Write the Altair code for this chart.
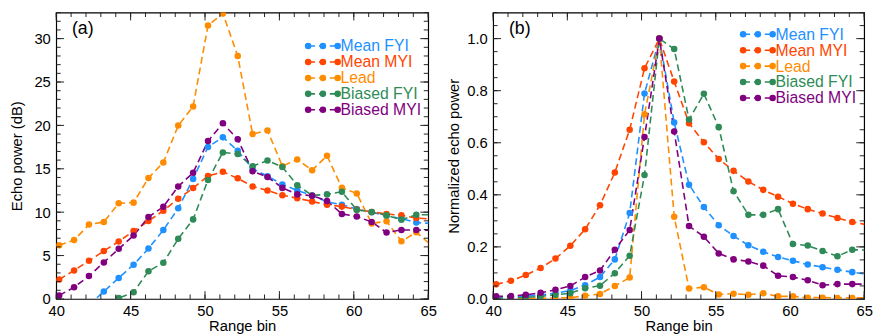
import altair as alt
import pandas as pd

# ---------------- data ----------------
range_bin = [40.2, 41.2, 42.2, 43.2, 44.2, 45.2, 46.2, 47.2, 48.2, 49.2, 50.2, 51.2, 52.2,
             53.2, 54.2, 55.2, 56.2, 57.2, 58.2, 59.2, 60.2, 61.2, 62.2, 63.2, 64.2, 65.2]

series_names = ["Mean FYI", "Mean MYI", "Lead", "Biased FYI", "Biased MYI"]
series_colors = ["#1E90FF", "#FF4500", "#FF8C00", "#2E8B57", "#800080"]

# (a) echo power, dB
a_mean_fyi = [None, None, -0.7, 0.86, 2.42, 3.95, 5.81, 7.94, 10.44, 13.83, 17.52, 18.64, 17.07,
              15.0, 14.15, 13.2, 12.5, 11.93, 11.18, 10.86, 10.36, 10.0, 9.6, 9.25, 8.8, 8.7]
a_mean_myi = [2.24, 3.28, 4.4, 5.52, 6.63, 7.83, 8.98, 10.17, 11.55, 12.78, 14.16, 14.65, 13.9,
              12.97, 12.49, 11.96, 11.6, 11.23, 10.86, 10.64, 10.3, 10.03, 9.8, 9.63, 9.33, 9.2]
a_lead = [6.19, 6.78, 8.57, 8.87, 11.03, 11.1, 13.94, 15.73, 19.98, 22.18, 31.5, 32.9, 27.99,
          19.0, 19.42, 15.3, 16.08, 14.83, 16.5, 12.8, 12.16, 8.7, 8.96, 6.64, 7.68, 6.2]
a_biased_fyi = [None, None, None, -3.0, 0.1, 0.78, 3.2, 4.17, 6.93, 9.17, 13.72, 16.88, 16.7,
                15.3, 15.95, 15.2, 13.1, 11.93, 12.05, 12.35, 10.26, 10.03, 9.63, 9.14, 9.7, 9.7]
a_biased_myi = [0.41, 1.34, 2.65, 4.21, 5.78, 7.31, 9.43, 10.62, 12.97, 14.54, 18.19, 20.24, 18.4,
                14.72, 14.05, 12.8, 12.05, 11.9, 11.3, 9.8, 9.5, 8.88, 7.65, 7.95, 7.95, 7.9]

# (b) normalized echo power
b_mean_fyi = [0.006, 0.009, 0.011, 0.016, 0.022, 0.032, 0.053, 0.084, 0.152, 0.33, 0.789, 1.0, 0.678,
              0.439, 0.353, 0.283, 0.242, 0.206, 0.181, 0.161, 0.147, 0.132, 0.122, 0.112, 0.103, 0.095]
b_mean_myi = [0.056, 0.07, 0.092, 0.119, 0.155, 0.204, 0.268, 0.36, 0.486, 0.65, 0.886, 1.0, 0.835,
              0.675, 0.602, 0.538, 0.492, 0.451, 0.419, 0.393, 0.366, 0.345, 0.328, 0.311, 0.296, 0.285]
b_lead = [0.0, 0.001, 0.002, 0.003, 0.004, 0.005, 0.012, 0.019, 0.05, 0.082, 0.709, 1.0, 0.316,
          0.04, 0.045, 0.017, 0.02, 0.016, 0.022, 0.01, 0.01, 0.005, 0.005, 0.004, 0.004, 0.004]
b_biased_fyi = [0.002, 0.004, 0.006, 0.01, 0.016, 0.022, 0.041, 0.051, 0.099, 0.166, 0.476, 1.0, 0.96,
                0.689, 0.788, 0.66, 0.414, 0.323, 0.323, 0.345, 0.211, 0.205, 0.184, 0.164, 0.189, 0.188]
b_biased_myi = [0.01, 0.011, 0.016, 0.024, 0.035, 0.05, 0.084, 0.109, 0.189, 0.265, 0.622, 1.0, 0.643,
                0.28, 0.239, 0.175, 0.152, 0.144, 0.128, 0.089, 0.084, 0.072, 0.053, 0.057, 0.057, 0.057]

x_major = [40, 45, 50, 55, 60, 65]
x_minor = list(range(40, 66))
a_y_major = [0, 5, 10, 15, 20, 25, 30]
a_y_minor = list(range(0, 34))
b_y_major = [0.0, 0.2, 0.4, 0.6, 0.8, 1.0]
b_y_minor = [round(0.05 * i, 2) for i in range(0, 23)]

FONT = "Liberation Sans"


def long_frame(cols):
    rows = []
    for name, vals in zip(series_names, cols):
        for xv, yv in zip(range_bin, vals):
            if yv is not None:
                rows.append({"x": xv, "y": yv, "series": name})
    return pd.DataFrame(rows)


def panel(df, ydomain, ymajor, yminor, yfmt, ytitle, ytitle_pad, label, leg_x, leg_y0, W, H):
    xscale = alt.Scale(domain=[40, 65], nice=False, zero=False)
    yscale = alt.Scale(domain=ydomain, nice=False, zero=False)
    color = alt.Color("series:N", scale=alt.Scale(domain=series_names, range=series_colors), legend=None)
    xaxis = alt.Axis(values=x_major, tickSize=0, domain=False, grid=False, labelPadding=5,
                     title="Range bin", titlePadding=0, labelFlush=False)
    yaxis = alt.Axis(values=ymajor, format=yfmt, tickSize=0, domain=False, grid=False, labelPadding=6,
                     title=ytitle, titlePadding=ytitle_pad)

    X = alt.X("x:Q", scale=xscale, axis=xaxis)
    Y = alt.Y("y:Q", scale=yscale, axis=yaxis)

    lines = alt.Chart(df).mark_line(strokeDash=[7, 4], strokeWidth=1.6, clip=True).encode(
        x=X, y=Y, color=color, order="x:Q",
    )
    pts = alt.Chart(df).mark_circle(size=44, opacity=1, clip=True).encode(
        x=X, y=Y, color=color,
    )

    layers = [lines, pts]
    tick_col = "#222222"
    # x ticks (top and bottom, inward)
    for vals, L in ((x_major, 8), (x_minor, 4.5)):
        tdf = pd.DataFrame({"x": vals})
        for y0, y1 in ((0, L), (H, H - L)):
            layers.append(alt.Chart(tdf).mark_rule(color=tick_col, strokeWidth=1).encode(
                x=X, y=alt.value(y0), y2=alt.value(y1)))
    # y ticks (left and right, inward)
    for vals, L in ((ymajor, 8), (yminor, 4.5)):
        tdf = pd.DataFrame({"y": vals})
        for x0, x1 in ((0, L), (W, W - L)):
            layers.append(alt.Chart(tdf).mark_rule(color=tick_col, strokeWidth=1).encode(
                y=Y, x=alt.value(x0), x2=alt.value(x1)))

    # custom legend
    one = pd.DataFrame({"k": [0]})
    for i, (name, col) in enumerate(zip(series_names, series_colors)):
        yy = leg_y0 + i * 16.2
        layers.append(alt.Chart(one).mark_rule(color=col, strokeWidth=1.6, strokeDash=[7, 4]).encode(
            x=alt.value(leg_x), x2=alt.value(leg_x + 30), y=alt.value(yy)))
        for dx in (0, 15, 30):
            layers.append(alt.Chart(one).mark_circle(size=44, opacity=1, color=col).encode(
                x=alt.value(leg_x + dx), y=alt.value(yy)))
        layers.append(alt.Chart(one).mark_text(align="left", baseline="middle", fontSize=16,
                                               font=FONT, color=col).encode(
            x=alt.value(leg_x + 33), y=alt.value(yy + 0.5), text=alt.value(name)))

    layers.append(alt.Chart(one).mark_text(align="left", baseline="middle", fontSize=18,
                                           font=FONT, color="black").encode(
        x=alt.value(16), y=alt.value(17), text=alt.value(label)))

    return alt.layer(*layers).properties(width=W, height=H)


df_a = long_frame([a_mean_fyi, a_mean_myi, a_lead, a_biased_fyi, a_biased_myi])
df_b = long_frame([b_mean_fyi, b_mean_myi, b_lead, b_biased_fyi, b_biased_myi])

pa = panel(df_a, [0, 33], a_y_major, a_y_minor, "d", "Echo power (dB)", 10, "(a)", 256, 34, 378, 291)
pb = panel(df_b, [0, 1.1], b_y_major, b_y_minor, ".1f", "Normalized echo power", 5, "(b)", 254, 22, 377, 291)

chart = alt.hconcat(pa, pb, spacing=9).properties(padding=0).configure_view(
    stroke="black", strokeWidth=1.2
).configure_axis(
    labelFont=FONT, titleFont=FONT, labelFontSize=15, titleFontSize=15,
    titleFontWeight="normal", labelColor="black", titleColor="black"
)

chart.save("out.html", embed_options={"renderer": "svg", "actions": False})
